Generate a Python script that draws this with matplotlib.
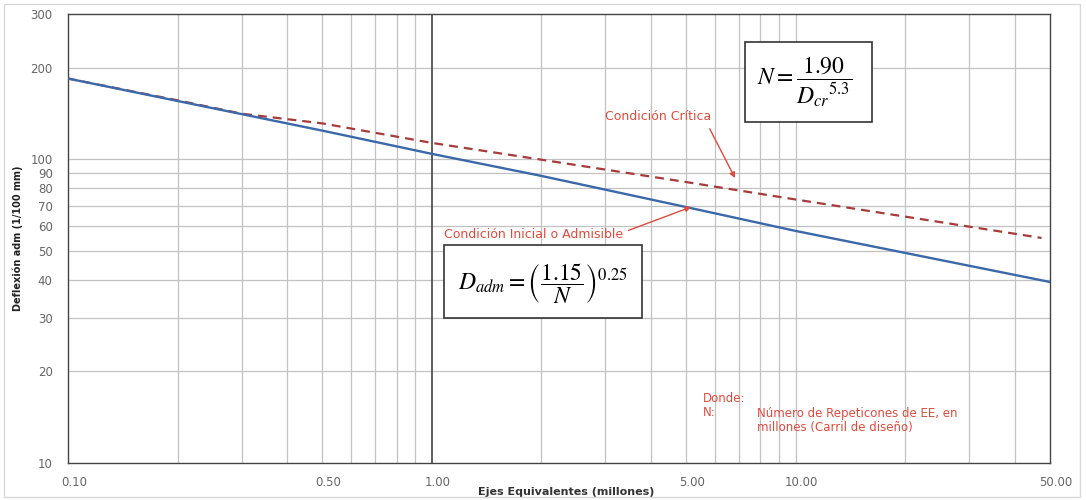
import matplotlib
matplotlib.use("Agg")
import matplotlib.pyplot as plt
import matplotlib.transforms as mtransforms
from matplotlib.patches import Rectangle
from matplotlib.ticker import FixedLocator, NullFormatter, NullLocator

# ---- data ----
N_adm = [0.1, 0.5, 1.0, 2.0, 5.0, 10.0, 50.0]
D_adm = [184, 124, 104, 88, 69.5, 58, 39.4]          # Condición Inicial o Admisible (solid blue)
N_cr = [0.1, 0.2, 0.3, 0.5, 1.0, 2.0, 5.0, 10.0, 47.4]
D_cr = [184, 156, 141, 131, 113, 99.5, 84, 73.6, 55]  # Condición Crítica (dashed red)

x_ticks = [0.1, 0.5, 1.0, 5.0, 10.0, 50.0]
x_tick_labels = ["0.10", "0.50", "1.00", "5.00", "10.00", "50.00"]
y_ticks = [10, 20, 30, 40, 50, 60, 70, 80, 90, 100, 200, 300]
y_tick_labels = ["10", "20", "30", "40", "50", "60", "70", "80", "90", "100", "200", "300"]
x_grid = [0.2, 0.3, 0.4, 0.5, 0.6, 0.7, 0.8, 0.9, 2, 3, 4, 5, 6, 7, 8, 9, 10, 20, 30, 40]
y_grid = [20, 30, 40, 50, 60, 70, 80, 90, 100, 200]

W, H = 1086, 500
plt.rcParams["mathtext.fontset"] = "stix"
fig = plt.figure(figsize=(W / 100, H / 100), dpi=100)

def px(x, y):
    return x / W, 1 - y / H

L, R, T, B = 68, 1050, 14, 463
ax = fig.add_axes([L / W, 1 - B / H, (R - L) / W, (B - T) / H])
ax.set_xscale("log")
ax.set_yscale("log")
ax.set_xlim(0.1, 50)
ax.set_ylim(10, 300)

# grid
for xv in x_grid:
    ax.axvline(xv, color="#c2c2c2", lw=0.9, zorder=1)
for yv in y_grid:
    ax.axhline(yv, color="#c2c2c2", lw=0.9, zorder=1)
ax.axvline(1.0, color="#333333", lw=1.1, zorder=1)

# lines
ax.plot(N_cr, D_cr, color="#a83a3a", lw=1.6, ls=(0, (4.0, 2.7)), zorder=3)
ax.plot(N_adm, D_adm, color="#3b68a8", lw=1.7, zorder=4)

# ticks
ax.xaxis.set_major_locator(FixedLocator(x_ticks))
ax.xaxis.set_minor_locator(NullLocator())
ax.yaxis.set_major_locator(FixedLocator(y_ticks))
ax.yaxis.set_minor_locator(NullLocator())
ax.set_xticklabels(x_tick_labels)
ax.set_yticklabels(y_tick_labels)
ax.xaxis.set_minor_formatter(NullFormatter())
ax.yaxis.set_minor_formatter(NullFormatter())
ax.tick_params(axis="both", length=0, labelsize=8.5, labelcolor="#666666")
ax.tick_params(axis="x", pad=9)
ax.tick_params(axis="y", pad=11)
shift = mtransforms.ScaledTranslation(6 / 100, 0, fig.dpi_scale_trans)
for lab in ax.get_xticklabels():
    lab.set_transform(lab.get_transform() + shift)
for s in ax.spines.values():
    s.set_color("#444444")
    s.set_linewidth(1.0)

ax.set_xlabel("Ejes Equivalentes (millones)", fontsize=8, fontweight="bold",
              color="#333333")
ax.xaxis.set_label_coords((566 - L) / (R - L), -(492 - B) / (B - T), transform=ax.transAxes)
ax.xaxis.label.set_va("center")
ax.set_ylabel("Deflexión adm (1/100 mm)", fontsize=7, fontweight="bold",
              color="#222222")
ax.yaxis.set_label_coords(-(L - 18) / (R - L), 0.5)
ax.yaxis.label.set_va("center")

red = "#e04a3c"
fs = 9
# annotations
ax.annotate("Condición Crítica", xy=px(735, 178), xycoords="figure fraction",
            xytext=px(605, 117), textcoords="figure fraction",
            fontsize=fs, color=red, va="center", ha="left",
            arrowprops=dict(arrowstyle="-|>", color=red, lw=1.0,
                            shrinkA=2, shrinkB=0, mutation_scale=8,
                            relpos=(0.96, 0.0)), zorder=6)
ax.annotate("Condición Inicial o Admisible", xy=px(691, 207), xycoords="figure fraction",
            xytext=px(444, 235), textcoords="figure fraction",
            fontsize=fs, color=red, va="center", ha="left",
            arrowprops=dict(arrowstyle="-|>", color=red, lw=1.0,
                            shrinkA=2, shrinkB=0, mutation_scale=8,
                            relpos=(1.0, 0.7)), zorder=6)

fs2 = 8.5
fig.text(*px(703, 398), "Donde:", fontsize=fs2, color=red, va="center", ha="left")
fig.text(*px(703, 413), "N:", fontsize=fs2, color=red, va="center", ha="left")
fig.text(*px(757, 413), "Número de Repeticones de EE, en", fontsize=fs2, color=red,
         va="center", ha="left")
fig.text(*px(757, 428), "millones (Carril de diseño)", fontsize=fs2, color=red,
         va="center", ha="left")

# formula boxes
def box(x0, y0, x1, y1):
    r = Rectangle((x0 / W, 1 - y1 / H), (x1 - x0) / W, (y1 - y0) / H,
                  transform=fig.transFigure, facecolor="white",
                  edgecolor="#333333", lw=1.2, zorder=5)
    fig.add_artist(r)

box(745, 42, 872, 122)
fig.text(*px(805, 82), r"$N=\dfrac{1.90}{{D_{cr}}^{5.3}}$", fontsize=17,
         ha="center", va="center", zorder=6)
box(444, 245, 642, 318)
fig.text(*px(543, 284), r"$D_{adm}=\left(\dfrac{1.15}{N}\right)^{0.25}$", fontsize=17,
         ha="center", va="center", zorder=6)

# outer light frame
fig.add_artist(Rectangle((4 / W, 1 - 497 / H), (1080 - 4) / W, (497 - 4) / H,
                         transform=fig.transFigure, facecolor="none",
                         edgecolor="#d8d8d8", lw=1.0))

fig.savefig("out.png", dpi=100)
